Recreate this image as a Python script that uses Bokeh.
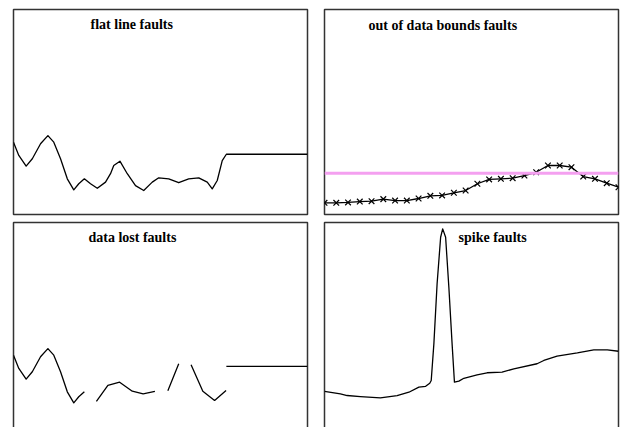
from bokeh.plotting import figure
from bokeh.layouts import column, row
from bokeh.models import Range1d, Label, Span
from bokeh.embed import file_html
from bokeh.resources import INLINE

nan = float("nan")

# ---- panel 1: flat line faults ----
flat_x = [0, 1.8, 4.3, 6.4, 9.2, 11.7, 13.7, 16.0, 18.3, 20.5, 22.2, 24.1, 26.2, 28.5,
          31.3, 33.0, 34.1, 36.2, 38.7, 41.5, 44.3, 47.2, 49.4, 52.8, 56.2, 59.6, 63.0,
          65.9, 67.6, 69.3, 71.0, 72.4, 100]
flat_y = [35.3, 28.8, 23.6, 27.2, 34.5, 38.5, 35.3, 27.2, 17.4, 12.0, 15.0, 17.4, 15.0, 12.8,
          15.8, 19.9, 23.9, 26.0, 19.9, 14.1, 11.7, 15.8, 17.9, 17.4, 15.5, 17.4, 17.9,
          15.8, 12.5, 16.6, 26.3, 29.4, 29.4]

# ---- panel 2: out of data bounds faults ----
bounds_x = list(range(26))
bounds_y = [5.7, 5.7, 5.9, 6.3, 6.5, 7.5, 6.8, 6.8, 7.8, 9.1, 9.3, 10.6, 11.7, 15.0, 17.1,
            17.4, 17.7, 19.0, 20.6, 23.9, 23.9, 23.1, 18.5, 17.4, 15.3, 13.3]
bound_limit = 20.1

# ---- panel 3: data lost faults (gaps as NaN) ----
lost_x = [0, 1.8, 4.3, 6.4, 9.2, 11.7, 13.7, 16.0, 18.3, 20.5, 22.2, 24.1, nan,
          28.2, 32.1, 36.1, 40.4, 44.1, 48.1, nan,
          52.5, 56.2, nan,
          60.4, 64.4, 68.4, 72.3, nan,
          72.4, 100]
lost_y = [35.3, 28.8, 23.6, 27.2, 34.5, 38.5, 35.3, 27.2, 17.4, 12.0, 15.0, 17.4, nan,
          12.8, 20.5, 22.1, 17.7, 16.4, 17.6, nan,
          17.9, 31.1, nan,
          30.6, 17.7, 13.2, 18.0, nan,
          29.8, 29.8]

# ---- panel 4: spike faults ----
spike_x = [0, 5.4, 7.7, 12.2, 19.0, 24.7, 28.7, 32.1, 34.4, 35.8, 36.3, 37.2, 38.3, 39.5,
           40.2, 41.2, 42.3, 43.4, 44.2, 45.7, 47.4, 51.9, 55.3, 60.4, 64.4, 72.3, 74.6,
           79.1, 86.0, 91.6, 96.2, 100]
spike_y = [17.6, 16.4, 15.6, 15.1, 14.5, 15.6, 17.2, 19.7, 20.1, 21.6, 22.9, 40.8, 70.1, 92.8,
           96.9, 92.8, 68.4, 40.8, 22.1, 22.6, 24.0, 25.7, 26.7, 27.0, 28.6, 31.1, 32.7,
           34.8, 36.4, 37.9, 37.9, 37.2]

titles = ["flat line faults", "out of data bounds faults", "data lost faults", "spike faults"]


def make_fig(xmax, ymin, width, height, bl, br, bt, bb):
    p = figure(width=width, height=height, output_backend="svg", toolbar_location=None,
               x_range=Range1d(0, xmax), y_range=Range1d(ymin, 100),
               min_border_left=bl, min_border_right=br, min_border_top=bt, min_border_bottom=bb)
    p.xaxis.visible = False
    p.yaxis.visible = False
    p.grid.visible = False
    p.outline_line_color = "#333333"
    p.outline_line_width = 1.5
    p.background_fill_color = "white"
    p.border_fill_color = "white"
    return p


def add_title(p, text, x, y):
    p.add_layout(Label(x=x, y=y, text=text, text_font="Liberation Serif",
                       text_font_style="bold", text_font_size="14px", text_color="black",
                       text_baseline="alphabetic"))


p1 = make_fig(100, 0, 318, 218, 13, 11, 9, 4)
p1.line(flat_x, flat_y, line_color="black", line_width=1.3, line_join="round")
add_title(p1, titles[0], 26.2, 92.7)

p2 = make_fig(25, 0, 310, 218, 6, 10, 9, 4)
p2.add_layout(Span(location=bound_limit, dimension="width", line_color="#f4a0f0", line_width=3))
p2.line(bounds_x, bounds_y, line_color="black", line_width=1.3)
p2.scatter(bounds_x, bounds_y, marker="x", size=8, line_color="black", line_width=1.2)
add_title(p2, titles[1], 3.74, 92.2)

# bottom row: frame runs past the window bottom, as in the reference
p3 = make_fig(100, -1.95, 318, 213, 13, 11, 4, 0)
p3.line(lost_x, lost_y, line_color="black", line_width=1.3, line_join="round")
add_title(p3, titles[2], 25.5, 92.8)

p4 = make_fig(100, -1.95, 310, 213, 6, 10, 4, 0)
p4.line(spike_x, spike_y, line_color="black", line_width=1.3, line_join="round")
add_title(p4, titles[3], 45.6, 92.8)

layout = column(row(p1, p2, spacing=0), row(p3, p4, spacing=0), spacing=0)

open("out.html", "w").write(file_html(layout, INLINE))
